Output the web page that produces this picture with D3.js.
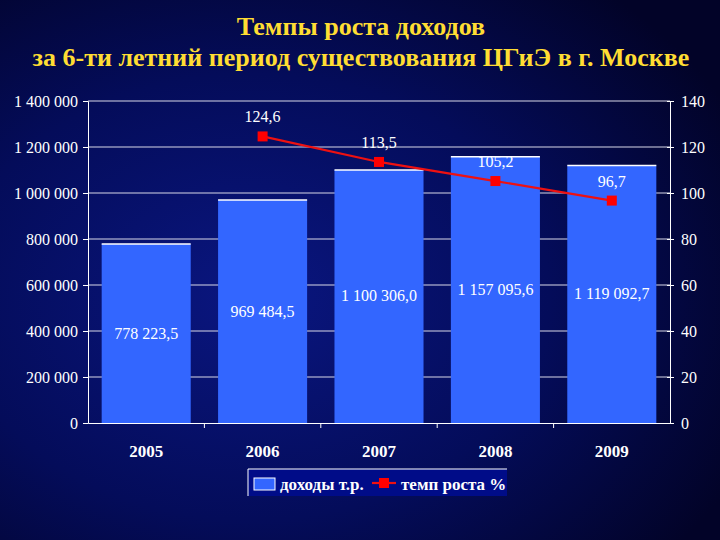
<!DOCTYPE html>
<html>
<head>
<meta charset="utf-8">
<script src="https://cdn.jsdelivr.net/npm/d3@7"></script>
<style>
  html, body { margin: 0; padding: 0; background: #000033; }
  svg { display: block; }
</style>
</head>
<body>
<svg width="720" height="540"></svg>
<script>
// data
const years = ['2005', '2006', '2007', '2008', '2009'];
const income = [778223.5, 969484.5, 1100306.0, 1157095.6, 1119092.7];
const rateYears = ['2006', '2007', '2008', '2009'];
const growthRate = [124.6, 113.5, 105.2, 96.7];
const leftTicks = [0, 200000, 400000, 600000, 800000, 1000000, 1200000, 1400000];
const rightTicks = [0, 20, 40, 60, 80, 100, 120, 140];
const titleLines = ['Темпы роста доходов', 'за 6-ти летний период существования ЦГиЭ в г. Москве'];
const legendNames = ['доходы т.р.', 'темп роста %'];

const W = 720, H = 540;
const plot = { left: 88, right: 670, top: 101, bottom: 423 };
const FONT = '"Liberation Serif", "Times New Roman", "DejaVu Serif", serif';

const ru = d3.formatLocale({ decimal: ',', thousands: '\u00a0', grouping: [3], currency: ['', ''] });
const fmtInt = ru.format(',.0f');
const fmtBar = ru.format(',.1f');
const fmtRate = ru.format('.1f');

const svg = d3.select('svg').attr('font-family', FONT);

// background
const defs = svg.append('defs');
const bg = defs.append('radialGradient').attr('id', 'bg')
    .attr('cx', '35%').attr('cy', '55%').attr('r', '75%');
bg.append('stop').attr('offset', '0%').attr('stop-color', '#0a1680');
bg.append('stop').attr('offset', '55%').attr('stop-color', '#040c5a');
bg.append('stop').attr('offset', '100%').attr('stop-color', '#020328');
svg.append('rect').attr('width', W).attr('height', H).attr('fill', 'url(#bg)');

// title
svg.append('g').selectAll('text')
    .data(titleLines)
    .enter()
    .append('text')
    .attr('x', 361)
    .attr('y', (d, i) => 35 + i * 31)
    .attr('text-anchor', 'middle')
    .attr('font-family', FONT)
    .attr('font-size', 26)
    .attr('font-weight', 'bold')
    .attr('fill', '#ffdd33')
    .text(d => d);

// scales
const x = d3.scaleBand()
    .domain(years)
    .range([plot.left, plot.right])
    .paddingInner(0.235)
    .paddingOuter(0.1175);

const xBand = d3.scaleBand().domain(years).range([plot.left, plot.right]);

const yLeft = d3.scaleLinear().domain([0, 1400000]).range([plot.bottom, plot.top]);
const yRight = d3.scaleLinear().domain([0, 140]).range([plot.bottom, plot.top]);

// gridlines
svg.append('g').selectAll('line')
    .data(leftTicks.slice(1))
    .enter()
    .append('line')
    .attr('x1', plot.left).attr('x2', plot.right)
    .attr('y1', d => yLeft(d)).attr('y2', d => yLeft(d))
    .attr('stroke', '#d8d8e8')
    .attr('stroke-width', 1);

// bars
const bars = svg.append('g');
bars.selectAll('rect')
    .data(years)
    .enter()
    .append('rect')
    .attr('x', d => x(d))
    .attr('width', x.bandwidth())
    .attr('y', (d, i) => yLeft(income[i]))
    .attr('height', (d, i) => plot.bottom - yLeft(income[i]))
    .attr('fill', '#3366ff');

bars.selectAll('line')
    .data(years)
    .enter()
    .append('line')
    .attr('x1', d => x(d)).attr('x2', d => x(d) + x.bandwidth())
    .attr('y1', (d, i) => yLeft(income[i])).attr('y2', (d, i) => yLeft(income[i]))
    .attr('stroke', '#ffffff')
    .attr('stroke-width', 1.5);

// left axis
const axisL = svg.append('g')
    .attr('transform', `translate(${plot.left},0)`)
    .call(d3.axisLeft(yLeft).tickValues(leftTicks).tickFormat(fmtInt).tickSize(5).tickPadding(5));

// right axis
const axisR = svg.append('g')
    .attr('transform', `translate(${plot.right},0)`)
    .call(d3.axisRight(yRight).tickValues(rightTicks).tickFormat(d3.format('d')).tickSize(4).tickPadding(7));
axisR.selectAll('.tick line').attr('x1', -3);

// bottom axis with ticks between categories
const axisB = svg.append('g')
    .attr('transform', `translate(0,${plot.bottom})`)
    .call(d3.axisBottom(xBand).tickSize(0).tickPadding(22));
axisB.selectAll('.tick text').attr('font-weight', 'bold').attr('font-size', 17);
svg.append('g').selectAll('line')
    .data(years.slice(1))
    .enter()
    .append('line')
    .attr('x1', d => xBand(d)).attr('x2', d => xBand(d))
    .attr('y1', plot.bottom).attr('y2', plot.bottom + 5)
    .attr('stroke', '#ffffff');

[axisL, axisR, axisB].forEach(a => {
    a.attr('font-family', FONT);
    a.selectAll('.domain').attr('stroke', '#ffffff');
    a.selectAll('.tick line').attr('stroke', '#ffffff');
    a.selectAll('.tick text').attr('fill', '#ffffff');
});
axisL.attr('font-size', 16);
axisR.attr('font-size', 16);

// bar value labels
svg.append('g').selectAll('text')
    .data(years)
    .enter()
    .append('text')
    .attr('x', d => x(d) + x.bandwidth() / 2)
    .attr('y', (d, i) => (yLeft(income[i]) + plot.bottom) / 2 + 5)
    .attr('text-anchor', 'middle')
    .attr('font-size', 16)
    .attr('fill', '#ffffff')
    .text((d, i) => fmtBar(income[i]));

// growth rate line
const cx = d => xBand(d) + xBand.bandwidth() / 2;
const line = d3.line()
    .x(d => cx(d[0]))
    .y(d => yRight(d[1]));
const ratePts = rateYears.map((d, i) => [d, growthRate[i]]);

svg.append('path')
    .datum(ratePts)
    .attr('d', line)
    .attr('fill', 'none')
    .attr('stroke', '#ee1111')
    .attr('stroke-width', 2.2);

svg.append('g').selectAll('rect')
    .data(ratePts)
    .enter()
    .append('rect')
    .attr('x', d => cx(d[0]) - 5)
    .attr('y', d => yRight(d[1]) - 5)
    .attr('width', 10)
    .attr('height', 10)
    .attr('fill', '#ff0000');

svg.append('g').selectAll('text')
    .data(ratePts)
    .enter()
    .append('text')
    .attr('x', d => cx(d[0]))
    .attr('y', d => yRight(d[1]) - 14)
    .attr('text-anchor', 'middle')
    .attr('font-size', 16)
    .attr('fill', '#ffffff')
    .text(d => fmtRate(d[1]));

// legend
const lg = svg.append('g').attr('transform', 'translate(248,469)');
lg.append('rect').attr('width', 259).attr('height', 27).attr('fill', '#000c88');
lg.append('path').attr('d', 'M0,27V0H259').attr('fill', 'none').attr('stroke', '#ffffff');
lg.append('rect').attr('x', 6).attr('y', 9).attr('width', 21).attr('height', 12)
    .attr('fill', '#3366ff').attr('stroke', '#ffffff').attr('stroke-width', 1);
lg.append('text').attr('x', 32).attr('y', 21).attr('font-size', 17).attr('font-weight', 'bold')
    .attr('fill', '#ffffff').text(legendNames[0]);
lg.append('line').attr('x1', 124).attr('x2', 148).attr('y1', 14).attr('y2', 14)
    .attr('stroke', '#ee1111').attr('stroke-width', 2.2);
lg.append('rect').attr('x', 131).attr('y', 9).attr('width', 10).attr('height', 10).attr('fill', '#ff0000');
lg.append('text').attr('x', 153).attr('y', 21).attr('font-size', 17).attr('font-weight', 'bold')
    .attr('fill', '#ffffff').text(legendNames[1]);
</script>
</body>
</html>
